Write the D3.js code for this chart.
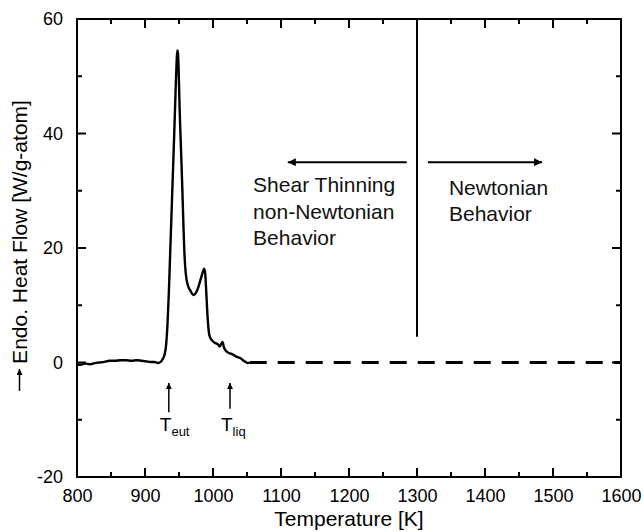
<!DOCTYPE html>
<html>
<head>
<meta charset="utf-8">
<script src="https://cdn.jsdelivr.net/npm/d3@7"></script>
<style>
  body { margin: 0; background: #fff; }
  svg { font-family: "Liberation Sans", Arial, sans-serif; }
</style>
</head>
<body>
<svg width="644" height="532"></svg>
<script>
// DSC trace, temperature [K] vs endo. heat flow [W/g-atom]
const temps = [800, 805, 812, 819, 826, 833, 840, 848, 856, 864, 872, 880, 888, 895, 902, 908, 914, 919, 923, 926,
  929, 931, 933, 935, 937, 939, 941, 943, 945, 946.5, 947.5, 948.5, 949.5, 951, 953, 955, 956.5, 958, 960, 963,
  967, 971, 974, 978, 982, 985, 987, 988.5, 990, 992, 994, 996, 999, 1003, 1007, 1010, 1012, 1014, 1016, 1018,
  1021, 1025, 1029, 1033, 1037, 1041, 1044, 1048, 1051, 1054];
const heatFlow = [-0.3, -0.4, -0.2, -0.3, -0.1, 0.0, 0.1, 0.3, 0.3, 0.4, 0.4, 0.3, 0.4, 0.3, 0.2, 0.1, 0.1, -0.1, 0.1, 0.6,
  1.5, 3.0, 6.5, 12, 19, 26, 33, 40, 47.5, 52.5, 54.5, 54, 51, 44, 37, 30, 24, 19, 15.5, 13.5,
  12.5, 11.8, 12.0, 13.0, 14.6, 15.8, 16.4, 15.6, 12.5, 8, 5.2, 4.3, 3.8, 3.4, 3.2, 2.8, 3.2, 3.6, 2.7, 2.2,
  1.8, 1.6, 1.4, 1.1, 0.9, 0.7, 0.4, 0.1, -0.1, 0.0];
// extrapolated baseline (dashed)
const dashTemps = [1054, 1600];
const dashFlow = [0, 0];

const xTicks = [800, 900, 1000, 1100, 1200, 1300, 1400, 1500, 1600];
const xMinor = [850, 950, 1050, 1150, 1250, 1350, 1450, 1550];
const yTicks = [-20, 0, 20, 40, 60];
const yMinor = [-10, 10, 30, 50];

// regime boundary and annotations
const boundaryT = 1300, boundaryTop = 60, boundaryBottom = 4.5;
const leftArrow = [1285, 1110], rightArrow = [1316, 1484], arrowY = 35;
const leftText = ["Shear Thinning", "non-Newtonian", "Behavior"];
const rightText = ["Newtonian", "Behavior"];
const markTemps = [935, 1025];
const markNames = [["T", "eut"], ["T", "liq"]];

let svg = d3.select("svg"),
  margin = {top: 19, right: 23, bottom: 55, left: 77},
  width = +svg.attr("width") - margin.left - margin.right,
  height = +svg.attr("height") - margin.top - margin.bottom;

let x = d3.scaleLinear().domain([800, 1600]).range([0, width]);
let y = d3.scaleLinear().domain([-20, 60]).range([height, 0]);

let defs = svg.append("defs");
function addMarker(id, len, wid) {
  defs.append("marker")
    .attr("id", id)
    .attr("viewBox", "0 0 10 10")
    .attr("refX", 10).attr("refY", 5)
    .attr("markerUnits", "userSpaceOnUse")
    .attr("markerWidth", len).attr("markerHeight", wid)
    .attr("orient", "auto")
    .append("path").attr("d", "M0,0L10,5L0,10z").attr("fill", "#000");
}
addMarker("headBig", 13, 8);
addMarker("headSmall", 9, 6);

let g = svg.append("g").attr("transform", "translate(" + margin.left + "," + margin.top + ")");

// tick labels via d3 axes
function noLines(sel) {
  sel.select(".domain").remove();
  sel.selectAll("line").remove();
  sel.selectAll("text").attr("font-size", 18).attr("fill", "#000")
    .attr("font-family", "Liberation Sans, Arial, sans-serif");
}
g.append("g").attr("transform", "translate(0," + height + ")")
  .call(d3.axisBottom(x).tickValues(xTicks).tickSize(0).tickPadding(12).tickFormat((d) => String(d)))
  .call(noLines);
g.append("g")
  .call(d3.axisLeft(y).tickValues(yTicks).tickSize(0).tickPadding(14).tickFormat((d) => String(d)))
  .call(noLines);

g.append("rect")
  .attr("width", width).attr("height", height)
  .attr("fill", "none").attr("stroke", "#000").attr("stroke-width", 2);

// tick marks, inward on all four sides
let tickPath = d3.path();
function xTickMarks(vals, len) {
  vals.forEach((d) => {
    tickPath.moveTo(x(d), height); tickPath.lineTo(x(d), height - len);
    tickPath.moveTo(x(d), 0); tickPath.lineTo(x(d), len);
  });
}
function yTickMarks(vals, len) {
  vals.forEach((d) => {
    tickPath.moveTo(0, y(d)); tickPath.lineTo(len, y(d));
    tickPath.moveTo(width, y(d)); tickPath.lineTo(width - len, y(d));
  });
}
xTickMarks(xTicks, 9);
xTickMarks(xMinor, 5);
yTickMarks(yTicks, 9);
yTickMarks(yMinor, 5);
g.append("path")
  .attr("d", tickPath.toString())
  .attr("fill", "none").attr("stroke", "#000").attr("stroke-width", 2);

// curve
let line = d3.line()
  .x((d, i) => x(temps[i]))
  .y((d) => y(d))
  .curve(d3.curveMonotoneX);
g.append("path")
  .attr("d", line(heatFlow))
  .attr("fill", "none").attr("stroke", "#000").attr("stroke-width", 2.4)
  .attr("stroke-linejoin", "round");

g.append("path")
  .attr("d", d3.line().x((d, i) => x(dashTemps[i])).y((d) => y(d))(dashFlow))
  .attr("fill", "none").attr("stroke", "#000").attr("stroke-width", 3)
  .attr("stroke-dasharray", "17 11");

// boundary
g.append("line")
  .attr("x1", x(boundaryT)).attr("x2", x(boundaryT))
  .attr("y1", y(boundaryTop)).attr("y2", y(boundaryBottom))
  .attr("stroke", "#000").attr("stroke-width", 2);

g.append("line")
  .attr("x1", x(leftArrow[0])).attr("x2", x(leftArrow[1]))
  .attr("y1", y(arrowY)).attr("y2", y(arrowY))
  .attr("stroke", "#000").attr("stroke-width", 2)
  .attr("marker-end", "url(#headBig)");
g.append("line")
  .attr("x1", x(rightArrow[0])).attr("x2", x(rightArrow[1]))
  .attr("y1", y(arrowY)).attr("y2", y(arrowY))
  .attr("stroke", "#000").attr("stroke-width", 2)
  .attr("marker-end", "url(#headBig)");

g.selectAll(".ltxt").data(leftText).enter().append("text")
  .attr("x", x(1059)).attr("y", (d, i) => y(29.7) + i * 26.3)
  .attr("font-size", 21).attr("fill", "#111")
  .text((d) => d);
g.selectAll(".rtxt").data(rightText).enter().append("text")
  .attr("x", x(1347)).attr("y", (d, i) => y(29.3) + i * 26.5)
  .attr("font-size", 21).attr("fill", "#111")
  .text((d) => d);

// T_eut, T_liq markers
g.selectAll(".mark").data(markTemps).enter().append("line")
  .attr("x1", (d) => x(d)).attr("x2", (d) => x(d))
  .attr("y1", (d, i) => y(i === 0 ? -8.7 : -8.1)).attr("y2", y(-3.6))
  .attr("stroke", "#000").attr("stroke-width", 1.5)
  .attr("marker-end", "url(#headSmall)");
let mt = g.selectAll(".mtxt").data(markTemps).enter().append("text")
  .attr("x", (d) => x(d) - 9).attr("y", y(-11.9))
  .attr("font-size", 19).attr("fill", "#000");
mt.append("tspan").text((d, i) => markNames[i][0]);
mt.append("tspan").attr("font-size", 13).attr("dy", 5).text((d, i) => markNames[i][1]);

// axis titles
svg.append("text")
  .attr("x", margin.left + width / 2).attr("y", 526)
  .attr("text-anchor", "middle").attr("font-size", 21).attr("fill", "#000")
  .text("Temperature [K]");

let yt = svg.append("g").attr("transform", "translate(20," + (margin.top + height / 2) + ") rotate(-90)");
let ytxt = yt.append("text")
  .attr("x", 16).attr("y", 7)
  .attr("text-anchor", "middle").attr("font-size", 21).attr("fill", "#000")
  .text("Endo. Heat Flow [W/g-atom]");
let half = ytxt.node().getComputedTextLength() / 2;
yt.append("line")
  .attr("x1", 16 - half - 27).attr("x2", 16 - half - 5)
  .attr("y1", -0.5).attr("y2", -0.5)
  .attr("stroke", "#000").attr("stroke-width", 1.5)
  .attr("marker-end", "url(#headSmall)");
</script>
</body>
</html>
